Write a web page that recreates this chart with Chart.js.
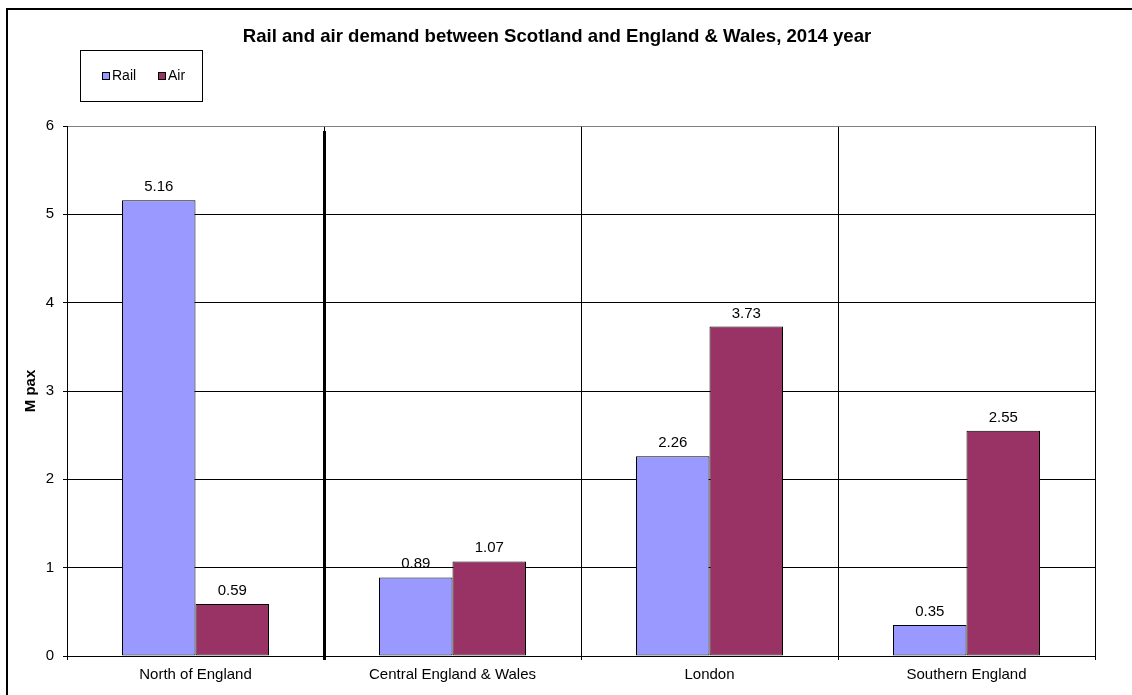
<!DOCTYPE html>
<html>
<head>
<meta charset="utf-8">
<script src="https://cdn.jsdelivr.net/npm/chart.js@4"></script>
<style>
    body { margin: 0; background: #fff; }
    canvas { display: block; }
</style>
</head>
<body>
<canvas id="demandChart" width="1132" height="695"></canvas>
<script>
const chartTitle = "Rail and air demand between Scotland and England & Wales, 2014 year";
const regions = ["North of England", "Central England & Wales", "London", "Southern England"];
const railDemand = [5.16, 0.89, 2.26, 0.35];
const airDemand = [0.59, 1.07, 3.73, 2.55];
const yTitle = "M pax";

const FONT = "'Liberation Sans', Arial, sans-serif";

// title, legend box, outer frame, separator and value labels
const extrasPlugin = {
    id: "extras",
    afterDatasetsDraw(chart) {
        const ctx = chart.ctx;
        const area = chart.chartArea;
        const xScale = chart.scales.x;

        // thick separator after first region
        const sepX = (xScale.getPixelForValue(0) + xScale.getPixelForValue(1)) / 2;
        ctx.save();
        ctx.strokeStyle = "#000";
        ctx.lineWidth = 3;
        ctx.beginPath();
        ctx.moveTo(Math.round(sepX) + 0.5, area.top + 5);
        ctx.lineTo(Math.round(sepX) + 0.5, area.bottom + 4);
        ctx.stroke();

        // value labels above bars
        ctx.fillStyle = "#000";
        ctx.font = "15px " + FONT;
        ctx.textAlign = "center";
        ctx.textBaseline = "alphabetic";
        chart.data.datasets.forEach((ds, i) => {
            chart.getDatasetMeta(i).data.forEach((bar, j) => {
                ctx.fillText(ds.data[j].toFixed(2), bar.x, bar.y - 9);
            });
        });
        ctx.restore();
    },
    afterDraw(chart) {
        const ctx = chart.ctx;
        ctx.save();

        // outer frame (left and top only visible)
        ctx.strokeStyle = "#000";
        ctx.lineWidth = 2;
        ctx.beginPath();
        ctx.moveTo(7, chart.height);
        ctx.lineTo(7, 9);
        ctx.lineTo(chart.width, 9);
        ctx.stroke();

        // title
        ctx.fillStyle = "#000";
        ctx.font = "bold 18.6px " + FONT;
        ctx.textAlign = "center";
        ctx.textBaseline = "middle";
        ctx.fillText(chartTitle, 557, 37);

        // legend box
        ctx.lineWidth = 1;
        ctx.strokeRect(80.5, 50.5, 122, 51);
        const itemX = [102, 158];
        ctx.font = "14px " + FONT;
        ctx.textAlign = "left";
        chart.data.datasets.forEach((ds, i) => {
            ctx.fillStyle = ds.backgroundColor;
            ctx.fillRect(itemX[i] + 0.5, 72.5, 7, 7);
            ctx.strokeStyle = "#000";
            ctx.strokeRect(itemX[i] + 0.5, 72.5, 7, 7);
            ctx.fillStyle = "#000";
            ctx.fillText(ds.label, itemX[i] + 10, 76.5);
        });
        ctx.restore();
    }
};

new Chart(document.getElementById("demandChart"), {
    type: "bar",
    data: {
        labels: regions,
        datasets: [
            {
                label: "Rail",
                data: railDemand,
                backgroundColor: "#9999FF",
                borderColor: "#000",
                borderWidth: 1,
                borderSkipped: false
            },
            {
                label: "Air",
                data: airDemand,
                backgroundColor: "#993366",
                borderColor: "#000",
                borderWidth: 1,
                borderSkipped: false
            }
        ]
    },
    options: {
        responsive: false,
        animation: false,
        datasets: {
            bar: {
                categoryPercentage: 0.572,
                barPercentage: 1
            }
        },
        layout: {
            padding: { top: 126, right: 37, left: 0, bottom: 0 }
        },
        plugins: {
            legend: { display: false },
            title: { display: false },
            tooltip: { enabled: false }
        },
        scales: {
            x: {
                afterFit(scale) { scale.height = 39; },
                grid: {
                    color: ctx => ctx.index === regions.length ? "#999" : "#000",
                    tickLength: 4
                },
                border: { color: "#000", width: 1 },
                ticks: {
                    color: "#000",
                    padding: 6,
                    font: { family: FONT, size: 15 }
                }
            },
            y: {
                min: 0,
                max: 6,
                afterFit(scale) { scale.width = 67; },
                grid: {
                    color: ctx => ctx.tick && ctx.tick.value === 6 ? "#808080" : "#000",
                    tickColor: "#000",
                    tickLength: 4
                },
                border: { color: "#000", width: 1 },
                ticks: {
                    stepSize: 1,
                    color: "#000",
                    padding: 9,
                    font: { family: FONT, size: 15 }
                },
                title: {
                    display: true,
                    text: yTitle,
                    color: "#000",
                    padding: { top: 22, bottom: 0 },
                    font: { family: FONT, size: 15, weight: "bold" }
                }
            }
        }
    },
    plugins: [extrasPlugin]
});
</script>
</body>
</html>
